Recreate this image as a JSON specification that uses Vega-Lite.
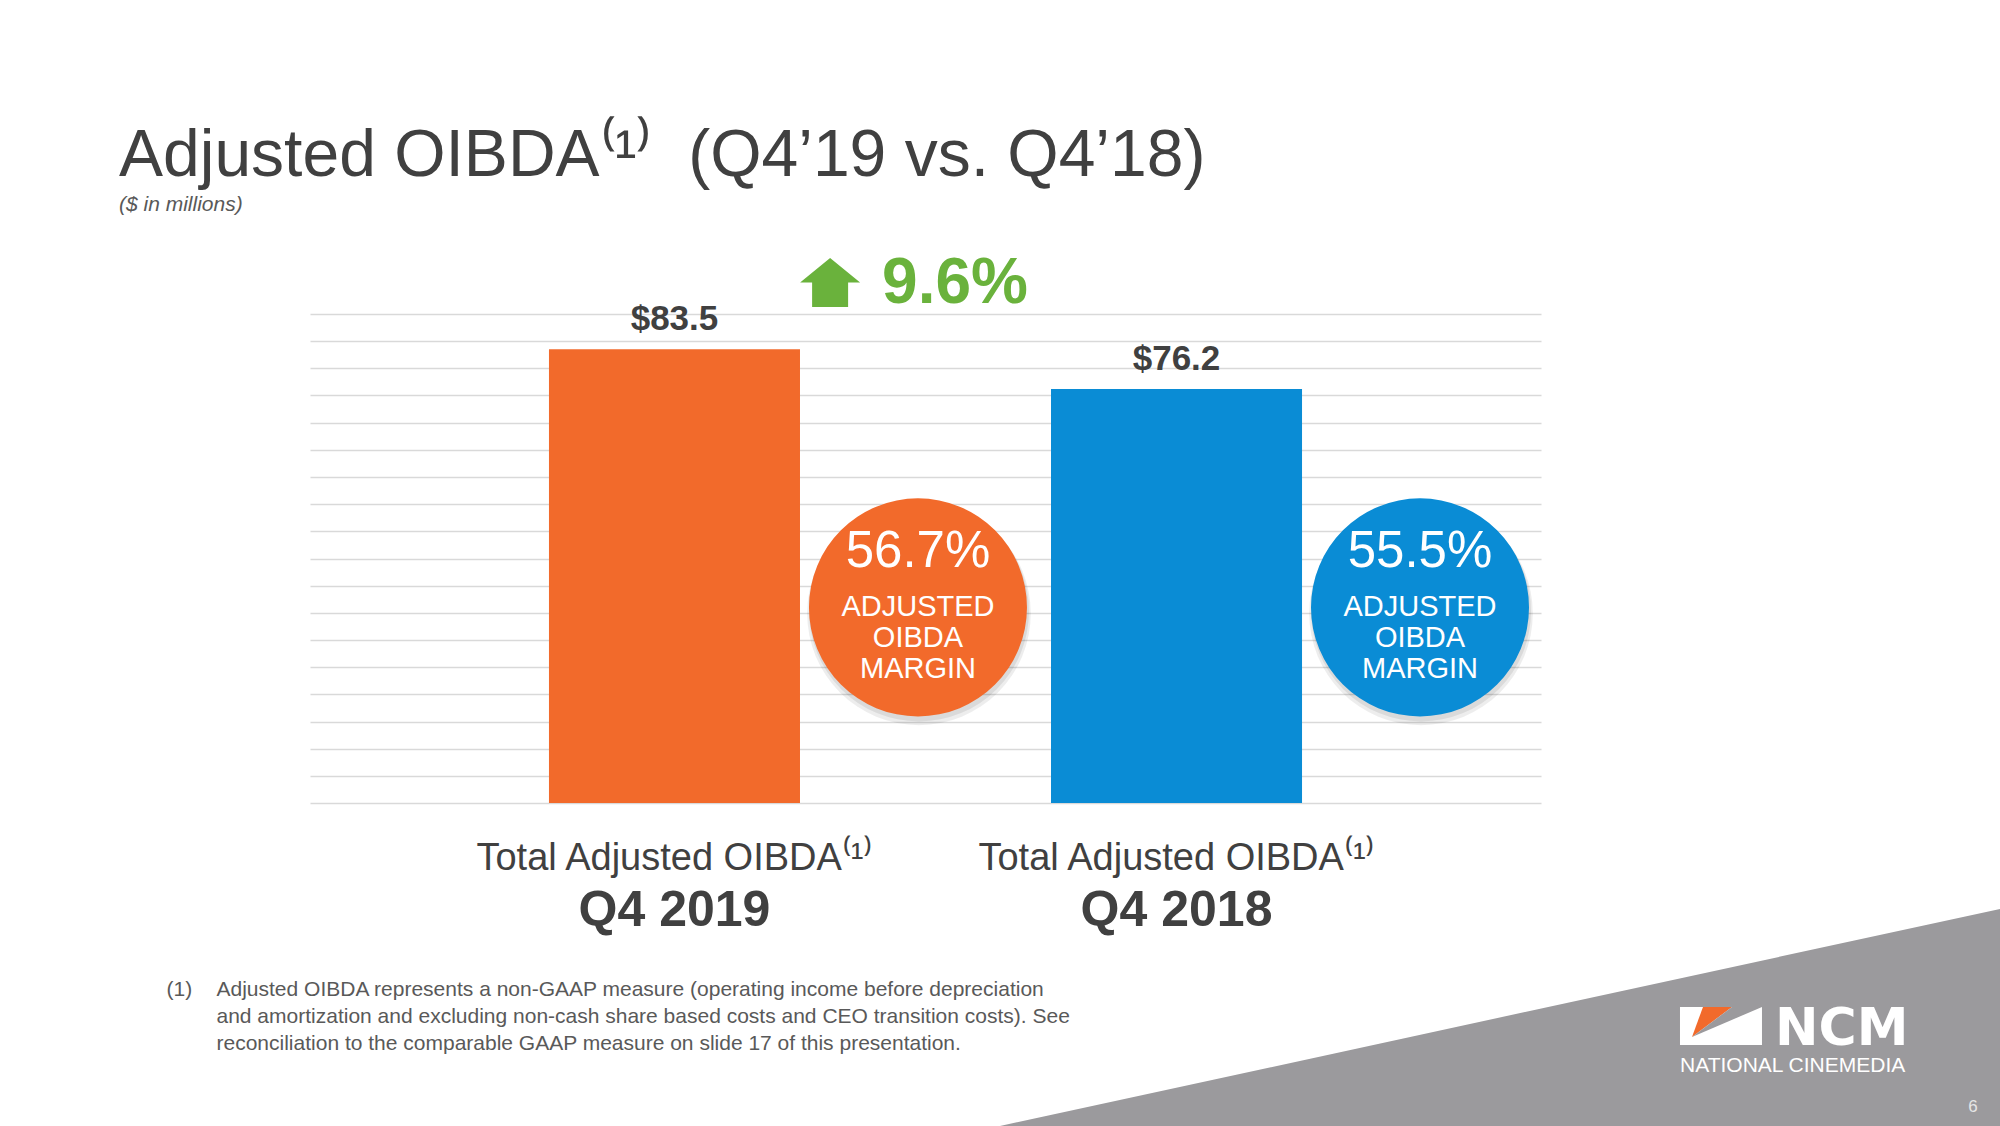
{
  "$schema": "https://vega.github.io/schema/vega-lite/v6.json",
  "width": 1231,
  "height": 489,
  "autosize": {"type": "none"},
  "padding": {"left": 310, "top": 314, "right": 459, "bottom": 323},
  "background": "white",
  "config": {"view": {"stroke": null}, "font": "Liberation Sans"},
  "title": {
    "text": "Adjusted OIBDA⁽¹⁾\u00a0\u00a0(Q4’19 vs. Q4’18)",
    "subtitle": "($ in millions)",
    "anchor": "start",
    "frame": "group",
    "dx": -191,
    "offset": 36,
    "font": "Liberation Sans",
    "fontSize": 66,
    "fontWeight": "normal",
    "color": "#404040",
    "subtitleFont": "Liberation Sans",
    "subtitleFontSize": 21,
    "subtitleFontStyle": "italic",
    "subtitleColor": "#595959",
    "subtitlePadding": 4
  },
  "resolve": {"axis": {"x": "independent", "y": "independent"}},
  "data": {
    "values": [
      {"quarter": "Q4 2019", "measure": "Total Adjusted OIBDA⁽¹⁾", "oibda": 83.5, "margin": 0.567},
      {"quarter": "Q4 2018", "measure": "Total Adjusted OIBDA⁽¹⁾", "oibda": 76.2, "margin": 0.555}
    ]
  },
  "layer": [
    {
      "data": {"values": [{"decor": "corner"}]},
      "mark": {"type": "point", "shape": "M -1.378 0.3 L 1.1 -0.238 L 1.1 0.3 Z", "filled": true, "color": "#9B9A9D", "opacity": 1, "strokeWidth": 0, "size": 1000000},
      "encoding": {
        "x": {"datum": "Q4 2018", "type": "nominal", "bandPosition": 1.789, "axis": null},
        "y": {"datum": -39.39, "type": "quantitative", "axis": null}
      }
    },
    {
      "mark": {"type": "bar"},
      "encoding": {
        "x": {
          "field": "quarter", "type": "nominal", "sort": null,
          "scale": {"domain": ["Q4 2019", "Q4 2018"], "paddingInner": 0.5, "paddingOuter": 0.476},
          "axis": {
            "title": [
              "Adjusted OIBDA represents a non-GAAP measure (operating income before depreciation",
              "and amortization and excluding non-cash share based costs and CEO transition costs). See",
              "reconciliation to the comparable GAAP measure on slide 17 of this presentation."
            ],
            "titleX": -94,
            "titleY": 192,
            "titleAlign": "left",
            "titleAnchor": "start",
            "titleBaseline": "alphabetic",
            "titleFont": "Liberation Sans",
            "titleFontSize": 21,
            "titleFontWeight": "normal",
            "titleColor": "#595959",
            "titleLineHeight": 27,
            "titleLimit": 0,
            "labelAngle": 0,
            "labelFont": "Liberation Sans",
            "labelFontSize": 50,
            "labelFontWeight": "bold",
            "labelColor": "#404040",
            "labelPadding": 82,
            "labelLimit": 0,
            "ticks": false,
            "domain": false,
            "grid": false
          }
        },
        "y": {
          "field": "oibda", "type": "quantitative",
          "scale": {"domain": [0, 90], "nice": false, "zero": true},
          "axis": {
            "title": "(1)",
            "titleAngle": 0,
            "titleX": -144,
            "titleY": 681,
            "titleAlign": "left",
            "titleBaseline": "alphabetic",
            "titleFont": "Liberation Sans",
            "titleFontSize": 21,
            "titleFontWeight": "normal",
            "titleColor": "#595959",
            "values": [0, 5, 10, 15, 20, 25, 30, 35, 40, 45, 50, 55, 60, 65, 70, 75, 80, 85, 90],
            "labels": false,
            "ticks": false,
            "domain": false,
            "grid": true,
            "gridColor": "#D9D9D9",
            "gridWidth": 1.5
          }
        },
        "color": {
          "field": "quarter", "type": "nominal",
          "scale": {"domain": ["Q4 2019", "Q4 2018"], "range": ["#F26A2B", "#0A8CD5"]},
          "legend": null
        }
      }
    },
    {
      "mark": {"type": "text", "font": "Liberation Sans", "fontSize": 35, "fontWeight": "bold", "color": "#404040", "baseline": "alphabetic", "dy": -19},
      "encoding": {
        "x": {"field": "quarter", "type": "nominal", "axis": null},
        "y": {"field": "oibda", "type": "quantitative", "axis": null},
        "text": {"field": "oibda", "type": "quantitative", "format": "$.1f"}
      }
    },
    {
      "mark": {"type": "point", "shape": "circle", "filled": true, "color": "#000000", "opacity": 0.07, "strokeWidth": 0, "size": 50000, "yOffset": 6, "xOffset": 1},
      "encoding": {
        "x": {"field": "quarter", "type": "nominal", "bandPosition": 1.47, "axis": null},
        "y": {"datum": 36, "type": "quantitative", "axis": null}
      }
    },
    {
      "mark": {"type": "point", "shape": "circle", "filled": true, "color": "#000000", "opacity": 0.08, "strokeWidth": 0, "size": 48400, "yOffset": 4, "xOffset": 1},
      "encoding": {
        "x": {"field": "quarter", "type": "nominal", "bandPosition": 1.47, "axis": null},
        "y": {"datum": 36, "type": "quantitative", "axis": null}
      }
    },
    {
      "mark": {"type": "point", "shape": "circle", "filled": true, "opacity": 1, "strokeWidth": 0, "size": 47524},
      "encoding": {
        "x": {"field": "quarter", "type": "nominal", "bandPosition": 1.47, "axis": null},
        "y": {"datum": 36, "type": "quantitative", "axis": null},
        "color": {"field": "quarter", "type": "nominal", "legend": null}
      }
    },
    {
      "mark": {"type": "text", "font": "Liberation Sans", "fontSize": 51, "color": "white", "baseline": "alphabetic", "dy": -40},
      "encoding": {
        "x": {"field": "quarter", "type": "nominal", "bandPosition": 1.47, "axis": null},
        "y": {"datum": 36, "type": "quantitative", "axis": null},
        "text": {"field": "margin", "type": "quantitative", "format": ".1%"}
      }
    },
    {
      "mark": {"type": "text", "text": ["ADJUSTED", "OIBDA", "MARGIN"], "font": "Liberation Sans", "fontSize": 29, "lineHeight": 31, "color": "white", "baseline": "alphabetic", "dy": 9},
      "encoding": {
        "x": {"field": "quarter", "type": "nominal", "bandPosition": 1.47, "axis": null},
        "y": {"datum": 36, "type": "quantitative", "axis": null}
      }
    },
    {
      "mark": {"type": "text", "font": "Liberation Sans", "fontSize": 38, "color": "#404040", "baseline": "alphabetic"},
      "encoding": {
        "x": {"field": "quarter", "type": "nominal", "axis": null},
        "y": {"datum": -12.3, "type": "quantitative", "axis": null},
        "text": {"field": "measure", "type": "nominal"}
      }
    },
    {
      "data": {"values": [{"change": 0.096}]},
      "mark": {"type": "point", "shape": "M 0 -0.82 L 1 0 L 0.6 0 L 0.6 0.82 L -0.6 0.82 L -0.6 0 L -1 0 Z", "filled": true, "color": "#6AB23C", "opacity": 1, "strokeWidth": 0, "size": 3600},
      "encoding": {
        "x": {"datum": "Q4 2019", "type": "nominal", "bandPosition": 1.12, "axis": null},
        "y": {"datum": 95.8, "type": "quantitative", "axis": null}
      }
    },
    {
      "data": {"values": [{"change": 0.096}]},
      "mark": {"type": "text", "font": "Liberation Sans", "fontSize": 64, "fontWeight": "bold", "color": "#6AB23C", "align": "left", "baseline": "alphabetic"},
      "encoding": {
        "x": {"datum": "Q4 2019", "type": "nominal", "bandPosition": 1.327, "axis": null},
        "y": {"datum": 92.0, "type": "quantitative", "axis": null},
        "text": {"field": "change", "type": "quantitative", "format": ".1%"}
      }
    },
    {
      "data": {"values": [{"decor": "logo"}]},
      "mark": {"type": "point", "shape": "M -1 -0.463 L 1 -0.463 L 1 0.463 L -1 0.463 Z", "filled": true, "color": "white", "opacity": 1, "strokeWidth": 0, "size": 6724},
      "encoding": {
        "x": {"datum": "Q4 2018", "type": "nominal", "bandPosition": 2.669, "axis": null},
        "y": {"datum": -41.04, "type": "quantitative", "axis": null}
      }
    },
    {
      "data": {"values": [{"decor": "logo"}]},
      "mark": {"type": "point", "shape": "M -0.439 -0.463 L 0.268 -0.463 L -0.707 0.268 Z", "filled": true, "color": "#F26A2B", "opacity": 1, "strokeWidth": 0, "size": 6724},
      "encoding": {
        "x": {"datum": "Q4 2018", "type": "nominal", "bandPosition": 2.669, "axis": null},
        "y": {"datum": -41.04, "type": "quantitative", "axis": null}
      }
    },
    {
      "data": {"values": [{"decor": "logo"}]},
      "mark": {"type": "point", "shape": "M 0.268 -0.463 L 1 -0.463 L -0.707 0.268 Z", "filled": true, "color": "#9B9A9D", "opacity": 1, "strokeWidth": 0, "size": 6724},
      "encoding": {
        "x": {"datum": "Q4 2018", "type": "nominal", "bandPosition": 2.669, "axis": null},
        "y": {"datum": -41.04, "type": "quantitative", "axis": null}
      }
    },
    {
      "data": {"values": [{"brand": "NCM"}]},
      "mark": {"type": "text", "font": "DejaVu Sans", "fontSize": 52, "fontWeight": "bold", "color": "white", "align": "left", "baseline": "alphabetic"},
      "encoding": {
        "x": {"datum": "Q4 2018", "type": "nominal", "bandPosition": 2.884, "axis": null},
        "y": {"datum": -44.54, "type": "quantitative", "axis": null},
        "text": {"field": "brand", "type": "nominal"}
      }
    },
    {
      "data": {"values": [{"brand": "NATIONAL CINEMEDIA"}]},
      "mark": {"type": "text", "font": "Liberation Sans", "fontSize": 21, "color": "white", "align": "left", "baseline": "alphabetic"},
      "encoding": {
        "x": {"datum": "Q4 2018", "type": "nominal", "bandPosition": 2.506, "axis": null},
        "y": {"datum": -49.51, "type": "quantitative", "axis": null},
        "text": {"field": "brand", "type": "nominal"}
      }
    },
    {
      "data": {"values": [{"page": "6"}]},
      "mark": {"type": "text", "font": "Liberation Sans", "fontSize": 17, "color": "#E6E6E6", "align": "center", "baseline": "alphabetic"},
      "encoding": {
        "x": {"datum": "Q4 2018", "type": "nominal", "bandPosition": 3.673, "axis": null},
        "y": {"datum": -56.87, "type": "quantitative", "axis": null},
        "text": {"field": "page", "type": "nominal"}
      }
    }
  ]
}
